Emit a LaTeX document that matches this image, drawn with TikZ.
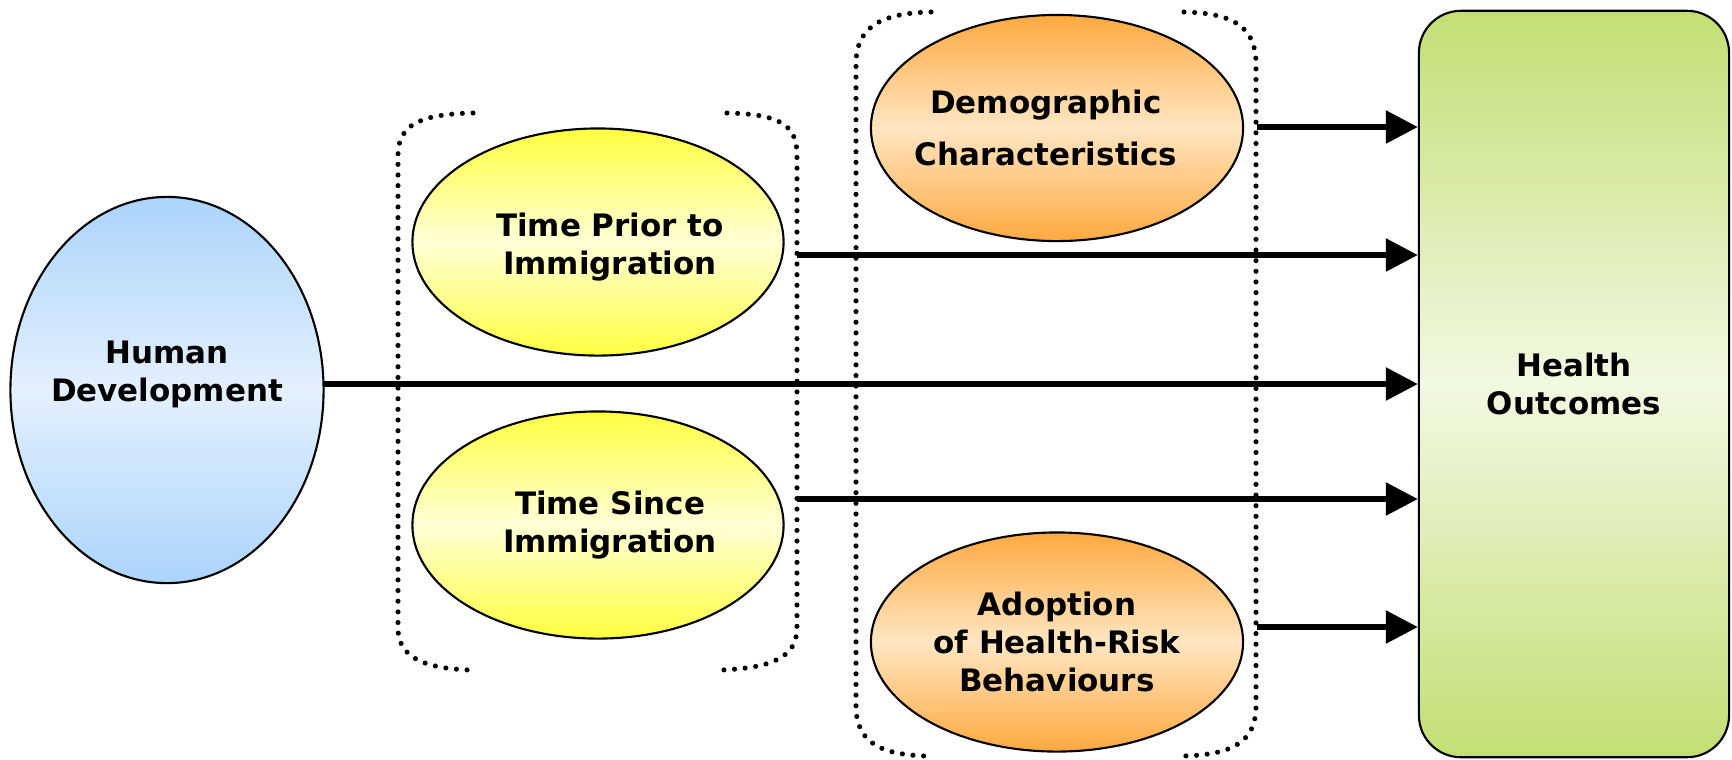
\documentclass[tikz,border=0pt]{standalone}
\usepackage{fontspec}
\setmainfont{DejaVu Sans}
\usetikzlibrary{shapes.geometric,arrows.meta}

\definecolor{hdblue}{HTML}{ABD4FC}
\definecolor{hdbluel}{HTML}{E4F0FD}
\definecolor{tmyel}{HTML}{FFFF40}
\definecolor{tmyell}{HTML}{FFFFD6}
\definecolor{dgorange}{HTML}{FFA940}
\definecolor{dgorangel}{HTML}{FFE6C2}
\definecolor{hogreen}{HTML}{C2DF74}
\definecolor{hogreenl}{HTML}{F2F8E2}

\begin{document}
\begin{tikzpicture}[x=0.01cm,y=-0.01cm,
  every node/.style={font=\bfseries\fontsize{8.8}{10.8}\selectfont,align=center},
  oval/.style={ellipse,draw,line width=0.6pt,inner sep=0pt},
  arr/.style={line width=1.6pt,-{Triangle[length=0.32cm,width=0.32cm]}},
  brk/.style={line width=1.45pt,line cap=round,dash pattern=on 0pt off 3.03pt}]
\useasboundingbox (0,0) rectangle (1732,759);

% the boxes, text put in as labels
\node[oval,minimum width=3.13cm,minimum height=3.86cm,
  top color=hdblue,bottom color=hdblue,middle color=hdbluel,
  label={[yshift=0.16cm]center:Human\\Development}] (hd) at (167,390) {};
\node[oval,minimum width=3.71cm,minimum height=2.27cm,
  top color=tmyel,bottom color=tmyel,middle color=tmyell,
  label={[xshift=0.12cm,yshift=-0.05cm]center:Time Prior to\\Immigration}] (tp) at (598,242) {};
\node[oval,minimum width=3.71cm,minimum height=2.27cm,
  top color=tmyel,bottom color=tmyel,middle color=tmyell,
  label={[xshift=0.12cm]center:Time Since\\Immigration}] (ts) at (598,525) {};
\node[oval,minimum width=3.72cm,minimum height=2.26cm,
  top color=dgorange,bottom color=dgorange,middle color=dgorangel,
  label={[xshift=-0.11cm]center:Demographic\\[0.14cm]Characteristics}] (dc) at (1057,128) {};
\node[oval,minimum width=3.72cm,minimum height=2.19cm,
  top color=dgorange,bottom color=dgorange,middle color=dgorangel,
  label={center:Adoption\\of Health-Risk\\Behaviours}] (ab) at (1057,642) {};
\node[draw,line width=0.6pt,rounded corners=0.42cm,minimum width=3.1cm,minimum height=7.46cm,
  top color=hogreen,bottom color=hogreen,middle color=hogreenl] (ho) at (1574,384) {Health\\Outcomes};

% where the arrows leave
\coordinate (dcout) at (1257,127);
\coordinate (tpout) at (797,255);
\coordinate (hdout) at (324,384);
\coordinate (tsout) at (797,499);
\coordinate (about) at (1257,627);

\draw[arr] (dcout) -- (dcout -| ho.west);
\draw[arr] (tpout) -- (tpout -| ho.west);
\draw[arr] (hdout) -- (hdout -| ho.west);
\draw[arr] (tsout) -- (tsout -| ho.west);
\draw[arr] (about) -- (about -| ho.west);

% dotted brackets
\draw[brk] (473,113) .. controls (420,114) and (398,125) .. (398,155) -- (398,628)
  .. controls (398,658) and (425,668) .. (469,670);
\draw[brk] (727,113) .. controls (780,114) and (797,125) .. (797,155) -- (797,628)
  .. controls (797,658) and (770,668) .. (721,670);
\draw[brk] (931,12) .. controls (878,13) and (856,29) .. (856,64) -- (856,706)
  .. controls (856,742) and (880,755) .. (928,756);
\draw[brk] (1184,12) .. controls (1236,13) and (1256,29) .. (1256,64) -- (1256,706)
  .. controls (1256,742) and (1232,755) .. (1182,756);
\end{tikzpicture}
\end{document}
